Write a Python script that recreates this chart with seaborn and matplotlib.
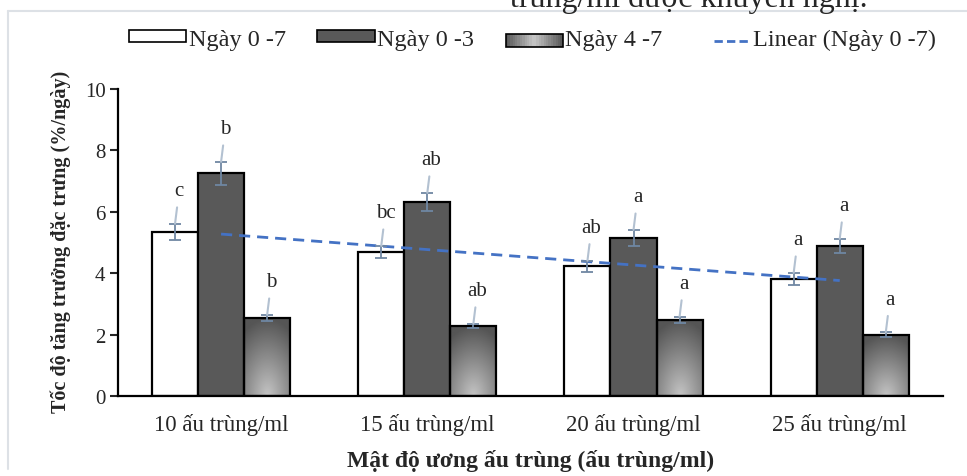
import numpy as np
import pandas as pd
import matplotlib
matplotlib.use('Agg')
import matplotlib.pyplot as plt
import seaborn as sns
from matplotlib.patches import Patch, Rectangle
from matplotlib.legend_handler import HandlerBase
from matplotlib.lines import Line2D
from matplotlib.colors import LinearSegmentedColormap

# Data
categories = ['10 ấu trùng/ml', '15 ấu trùng/ml', '20 ấu trùng/ml', '25 ấu trùng/ml']
series = ['Ngày 0 -7', 'Ngày 0 -3', 'Ngày 4 -7']
day07 = [5.34, 4.69, 4.23, 3.81]
day03 = [7.26, 6.32, 5.15, 4.89]
day47 = [2.54, 2.28, 2.48, 1.99]
err07 = [0.27, 0.20, 0.18, 0.20]
err03 = [0.37, 0.30, 0.26, 0.23]
err47 = [0.10, 0.07, 0.10, 0.08]
letters07 = ['c', 'bc', 'ab', 'a']
letters03 = ['b', 'ab', 'a', 'a']
letters47 = ['b', 'ab', 'a', 'a']

values = [day07, day03, day47]
errors = [err07, err03, err47]
letters = [letters07, letters03, letters47]

df = pd.DataFrame({
    'cat': categories * 3,
    'series': np.repeat(series, len(categories)),
    'val': day07 + day03 + day47,
})

sns.set_style('ticks')
plt.rcParams['font.family'] = ['Liberation Serif', 'DejaVu Serif']

fig = plt.figure(figsize=(9.67, 4.77), dpi=100)
ax = fig.add_axes([0.122, 0.168, 0.853, 0.643])

sns.barplot(data=df, x='cat', y='val', hue='series', ax=ax,
            palette=['white', '#595959', '#8a8a8a'], saturation=1,
            width=0.67, gap=0, edgecolor='black', linewidth=1.6,
            errorbar=None, legend=False)

# radial grey gradient for the third series
grad_cmap = LinearSegmentedColormap.from_list('g', ['#c4c4c4', '#8c8c8c', '#555555'])
u = np.linspace(-1, 1, 60)
v = np.linspace(1, 0, 80)
U, V = np.meshgrid(u, v)
D = np.clip(np.sqrt((U * 0.55) ** 2 + V ** 2), 0, 1)
for p in ax.containers[2].patches:
    x0, w, h = p.get_x(), p.get_width(), p.get_height()
    im = ax.imshow(D, cmap=grad_cmap, vmin=0, vmax=1, aspect='auto',
                   extent=(x0, x0 + w, 0, h), zorder=p.get_zorder() - 0.01)
    im.set_clip_path(p)
    p.set_facecolor('none')

# error bars and significance letters
for cont, vals, errs, labs in zip(ax.containers, values, errors, letters):
    xs = [p.get_x() + p.get_width() / 2 for p in cont.patches]
    ax.errorbar(xs, vals, yerr=errs, fmt='none', ecolor='#6f87a3',
                elinewidth=1.3, capsize=4, capthick=1.3, zorder=4)
    for x, y, e, t in zip(xs, vals, errs, labs):
        ax.annotate(t, xy=(x, y + e), xytext=(3, 24), textcoords='offset points',
                    ha='center', va='center', fontsize=15,
                    arrowprops=dict(arrowstyle='-', color='#b3c1d1', lw=1.5,
                                    shrinkA=3, shrinkB=0), zorder=5)

# linear trend of Ngày 0 -7
pos = np.arange(len(categories))
k, b = np.polyfit(pos, day07, 1)
ax.plot([pos[0], pos[-1]], [k * pos[0] + b, k * pos[-1] + b], color='#4472C4',
        lw=2, dashes=(4, 2.5), zorder=3)

ax.set_ylim(0, 10)
ax.set_xlim(-0.5, 3.5)
ax.set_yticks(range(0, 11, 2))
sns.despine(ax=ax)
for s in ['left', 'bottom']:
    ax.spines[s].set_linewidth(1.6)
    ax.spines[s].set_color('black')
ax.tick_params(axis='y', length=6, width=1.5, labelsize=15, pad=3)
ax.tick_params(axis='x', length=0, labelsize=16.5, pad=12)
ax.set_xlabel('Mật độ ương ấu trùng (ấu trùng/ml)', fontsize=17, fontweight='bold')
ax.set_ylabel('Tốc độ tăng trưởng đặc trưng (%/ngày)', fontsize=14.5, fontweight='bold')
ax.xaxis.set_label_coords(0.5, -0.172)
ax.yaxis.set_label_coords(-0.057, 0.505)


class GradHandler(HandlerBase):
    def create_artists(self, legend, orig, xd, yd, width, height, fontsize, trans):
        arts = []
        n = 24
        cm = LinearSegmentedColormap.from_list('h', ['#5a5a5a', '#c8c8c8', '#5a5a5a'])
        for i in range(n):
            arts.append(Rectangle((xd + width * i / n, yd), width / n + 0.3, height,
                                  facecolor=cm(i / (n - 1)), edgecolor='none', transform=trans))
        arts.append(Rectangle((xd, yd), width, height, facecolor='none',
                              edgecolor='black', lw=1.2, transform=trans))
        return arts


class ShortLineHandler(HandlerBase):
    def create_artists(self, legend, orig, xd, yd, width, height, fontsize, trans):
        y = yd + height / 2
        ln = Line2D([xd + width * 0.35, xd + width], [y, y], color=orig.get_color(),
                    lw=orig.get_linewidth(), dashes=(3, 1.5), transform=trans)
        return [ln]


handles = [Patch(facecolor='white', edgecolor='black', lw=1.2),
           Patch(facecolor='#595959', edgecolor='black', lw=1.2),
           Patch(facecolor='#8a8a8a', edgecolor='black', lw=1.2),
           Line2D([], [], color='#4472C4', lw=2)]
fig.legend(handles, series + ['Linear (Ngày 0 -7)'], loc='center',
           bbox_to_anchor=(0.551, 1 - 40 / 477), ncol=4, frameon=False,
           fontsize=17.5, handlelength=2.35, handleheight=0.42, handletextpad=0.1,
           columnspacing=1.3,
           handler_map={handles[2]: GradHandler(), handles[3]: ShortLineHandler()})

# page frame and cut-off document text from the screenshot
fig.add_artist(Line2D([8 / 967, 8 / 967], [1 - 12 / 477, 1 - 470 / 477], color='#dde1e6', lw=1.5))
fig.add_artist(Line2D([8 / 967, 1], [1 - 12 / 477, 1 - 12 / 477], color='#dde1e6', lw=1.5))
fig.text(510 / 967, 1 - 7 / 477, 'trùng/ml được khuyến nghị.', fontsize=23, va='baseline')

fig.savefig('out.png', dpi=100, facecolor='white')
